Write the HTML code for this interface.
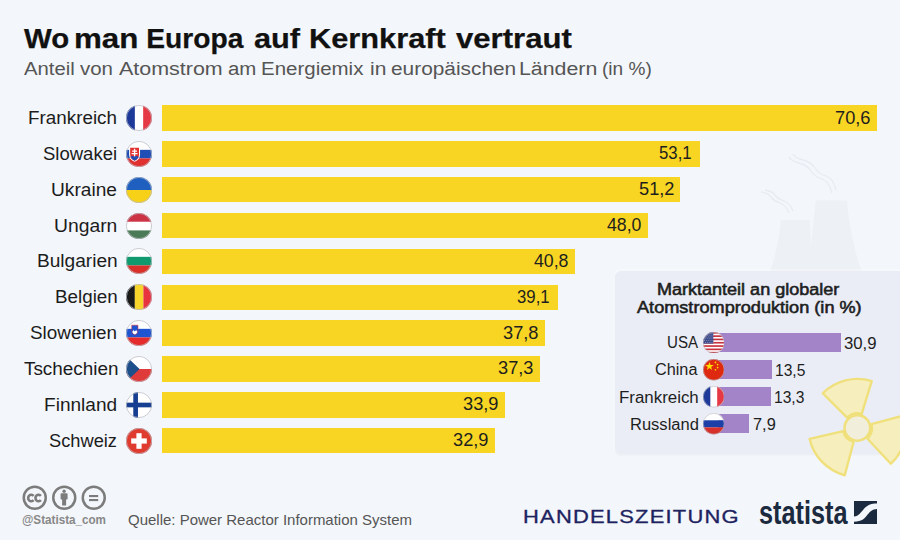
<!DOCTYPE html>
<html><head><meta charset="utf-8"><style>
html,body{margin:0;padding:0;}
body{width:900px;height:540px;overflow:hidden;background:#f3f6fa;position:relative;font-family:"Liberation Sans", sans-serif;}
.t{position:absolute;white-space:nowrap;line-height:1;}
.a{position:absolute;}
.bar{position:absolute;background:#f8d523;}
.pbar{position:absolute;background:#a384c9;}
</style></head><body>
<svg class="a" style="left:0;top:0" width="900" height="540" viewBox="0 0 900 540">
<path d="M770 272 Q779 246 781 220 L809.8 220 Q810.5 234 811 247 Q813 225 815.8 200.5 L847 200.5 Q850 240 862 272 Z" fill="#edf0f5"/>
<g fill="none" stroke="#e8ebf1" stroke-width="1.3">
<path d="M789 213 q-3 -8 -9 -10 t-9 -6 t-10 -5"/><path d="M793 211 q-3 -8 -9 -10 t-9 -6 t-10 -5"/>
<path d="M832 193 q-3 -12 -10 -14 t-11 -8 t-12 -8 t-10 -6"/><path d="M836 190 q-3 -12 -10 -14 t-11 -8 t-12 -8 t-10 -6"/>
</g>
</svg>
<div class="a" style="left:615px;top:270.5px;width:300px;height:182px;background:#eaedf5;border-radius:6px;box-shadow:0 0 0 2px rgba(255,255,255,0.3), 0 1.5px 1.5px rgba(220,224,232,0.7);"></div>
<div class="t" style="left:23.70px;top:23.73px;font-size:28.2px;font-weight:700;color:#111;transform-origin:0 23.87px;transform:scale(1.0429,1.0000);-webkit-text-stroke:0.25px #111;">Wo</div>
<div class="t" style="left:74.48px;top:23.73px;font-size:28.2px;font-weight:700;color:#111;transform-origin:0 23.87px;transform:scale(1.1111,1.0000);-webkit-text-stroke:0.25px #111;">man</div>
<div class="t" style="left:146.30px;top:23.73px;font-size:28.2px;font-weight:700;color:#111;transform-origin:0 23.87px;-webkit-text-stroke:0.25px #111;">Europa</div>
<div class="t" style="left:253.91px;top:23.73px;font-size:28.2px;font-weight:700;color:#111;transform-origin:0 23.87px;transform:scale(1.0905,1.0000);-webkit-text-stroke:0.25px #111;">auf</div>
<div class="t" style="left:308.62px;top:23.73px;font-size:28.2px;font-weight:700;color:#111;transform-origin:0 23.87px;transform:scale(1.0911,1.0000);-webkit-text-stroke:0.25px #111;">Kernkraft</div>
<div class="t" style="left:455.80px;top:23.73px;font-size:28.2px;font-weight:700;color:#111;transform-origin:0 23.87px;transform:scale(1.1038,1.0000);-webkit-text-stroke:0.25px #111;">vertraut</div>
<div class="t" style="left:23.60px;top:59.05px;font-size:19.2px;font-weight:400;color:#555;transform-origin:0 16.25px;transform:scale(1.0574,1.0000);">Anteil</div>
<div class="t" style="left:80.40px;top:59.05px;font-size:19.2px;font-weight:400;color:#555;transform-origin:0 16.25px;transform:scale(1.0667,1.0000);">von</div>
<div class="t" style="left:118.70px;top:59.05px;font-size:19.2px;font-weight:400;color:#555;transform-origin:0 16.25px;transform:scale(1.1185,1.0000);">Atomstrom</div>
<div class="t" style="left:227.64px;top:59.05px;font-size:19.2px;font-weight:400;color:#555;transform-origin:0 16.25px;transform:scale(1.0640,1.0000);">am</div>
<div class="t" style="left:261.17px;top:59.05px;font-size:19.2px;font-weight:400;color:#555;transform-origin:0 16.25px;transform:scale(1.0670,1.0000);">Energiemix</div>
<div class="t" style="left:369.61px;top:59.05px;font-size:19.2px;font-weight:400;color:#555;transform-origin:0 16.25px;transform:scale(1.0923,1.0000);">in</div>
<div class="t" style="left:390.91px;top:59.05px;font-size:19.2px;font-weight:400;color:#555;transform-origin:0 16.25px;transform:scale(1.0867,1.0000);">europäischen</div>
<div class="t" style="left:519.48px;top:59.05px;font-size:19.2px;font-weight:400;color:#555;transform-origin:0 16.25px;transform:scale(1.1119,1.0000);">Ländern</div>
<div class="t" style="left:602.41px;top:59.05px;font-size:19.2px;font-weight:400;color:#555;transform-origin:0 16.25px;transform:scale(0.9938,1.0000);">(in %)</div>
<div class="bar" style="left:161.5px;top:105.25px;width:715.46px;height:25.5px"></div>
<div class="t" style="left:27.92px;top:110.09px;font-size:17.5px;font-weight:400;color:#1c1c1c;transform-origin:0 14.81px;transform:scale(1.0765,1.0000);">Frankreich</div>
<svg class="a" style="left:126.00px;top:105.00px" width="26" height="26" viewBox="0 0 100 100"><defs><clipPath id="cm0"><circle cx="50" cy="50" r="50"/></clipPath></defs><g clip-path="url(#cm0)"><rect width="100" height="100" fill="#fff"/><rect width="34" height="100" fill="#1d3a9a"/><rect x="66" width="34" height="100" fill="#e63946"/></g><circle cx="50" cy="50" r="48.5" fill="none" stroke="#b9bcc4" stroke-width="3"/></svg>
<div class="t" style="left:835.24px;top:109.53px;font-size:17.8px;font-weight:400;color:#1e1e1e;transform-origin:0 15.07px;transform:scale(1.0242,1.0000);">70,6</div>
<div class="bar" style="left:161.5px;top:141.10px;width:538.12px;height:25.5px"></div>
<div class="t" style="left:43.24px;top:145.94px;font-size:17.5px;font-weight:400;color:#1c1c1c;transform-origin:0 14.81px;transform:scale(1.0574,1.0000);">Slowakei</div>
<svg class="a" style="left:126.00px;top:140.85px" width="26" height="26" viewBox="0 0 100 100"><defs><clipPath id="cm1"><circle cx="50" cy="50" r="50"/></clipPath></defs><g clip-path="url(#cm1)"><rect width="100" height="34" fill="#fff"/><rect y="34" width="100" height="33" fill="#1f4fb5"/><rect y="67" width="100" height="33" fill="#e03030"/><path d="M12 22 H54 V52 Q54 72 33 80 Q12 72 12 52 Z" fill="#fff"/><path d="M16 26 H50 V52 Q50 69 33 76 Q16 69 16 52 Z" fill="#e03030"/><path d="M30.5 30 h5 v7 h7 v4.5 h-7 v5 h9 v4.5 h-9 v10 h-5 v-10 h-9 v-4.5 h9 v-5 h-7 v-4.5 h7 z" fill="#fff"/><path d="M17 62 Q24 55 33 60 Q42 55 49 62 Q43 72 33 76 Q23 72 17 62 Z" fill="#1f4fb5"/></g><circle cx="50" cy="50" r="48.5" fill="none" stroke="#b9bcc4" stroke-width="3"/></svg>
<div class="t" style="left:658.67px;top:145.38px;font-size:17.8px;font-weight:400;color:#1e1e1e;transform-origin:0 15.07px;transform:scale(0.9424,1.0000);">53,1</div>
<div class="bar" style="left:161.5px;top:176.95px;width:518.86px;height:25.5px"></div>
<div class="t" style="left:50.61px;top:181.79px;font-size:17.5px;font-weight:400;color:#1c1c1c;transform-origin:0 14.81px;transform:scale(1.0932,1.0000);">Ukraine</div>
<svg class="a" style="left:126.00px;top:176.70px" width="26" height="26" viewBox="0 0 100 100"><defs><clipPath id="cm2"><circle cx="50" cy="50" r="50"/></clipPath></defs><g clip-path="url(#cm2)"><rect width="100" height="50" fill="#1f5fbf"/><rect y="50" width="100" height="50" fill="#f7d117"/></g><circle cx="50" cy="50" r="48.5" fill="none" stroke="#b9bcc4" stroke-width="3"/></svg>
<div class="t" style="left:638.64px;top:181.23px;font-size:17.8px;font-weight:400;color:#1e1e1e;transform-origin:0 15.07px;transform:scale(1.0242,1.0000);">51,2</div>
<div class="bar" style="left:161.5px;top:212.80px;width:486.43px;height:25.5px"></div>
<div class="t" style="left:54.40px;top:217.64px;font-size:17.5px;font-weight:400;color:#1c1c1c;transform-origin:0 14.81px;transform:scale(1.1036,1.0000);">Ungarn</div>
<svg class="a" style="left:126.00px;top:212.55px" width="26" height="26" viewBox="0 0 100 100"><defs><clipPath id="cm3"><circle cx="50" cy="50" r="50"/></clipPath></defs><g clip-path="url(#cm3)"><rect width="100" height="34" fill="#cc3344"/><rect y="34" width="100" height="33" fill="#fff"/><rect y="67" width="100" height="33" fill="#4a7a56"/></g><circle cx="50" cy="50" r="48.5" fill="none" stroke="#b9bcc4" stroke-width="3"/></svg>
<div class="t" style="left:607.23px;top:217.08px;font-size:17.8px;font-weight:400;color:#1e1e1e;transform-origin:0 15.07px;transform:scale(0.9941,1.0000);">48,0</div>
<div class="bar" style="left:161.5px;top:248.65px;width:413.47px;height:25.5px"></div>
<div class="t" style="left:36.51px;top:253.49px;font-size:17.5px;font-weight:400;color:#1c1c1c;transform-origin:0 14.81px;transform:scale(1.0917,1.0000);">Bulgarien</div>
<svg class="a" style="left:126.00px;top:248.40px" width="26" height="26" viewBox="0 0 100 100"><defs><clipPath id="cm4"><circle cx="50" cy="50" r="50"/></clipPath></defs><g clip-path="url(#cm4)"><rect width="100" height="34" fill="#fff"/><rect y="34" width="100" height="33" fill="#109a6e"/><rect y="67" width="100" height="33" fill="#d9302a"/></g><circle cx="50" cy="50" r="48.5" fill="none" stroke="#b9bcc4" stroke-width="3"/></svg>
<div class="t" style="left:534.27px;top:252.93px;font-size:17.8px;font-weight:400;color:#1e1e1e;transform-origin:0 15.07px;transform:scale(0.9941,1.0000);">40,8</div>
<div class="bar" style="left:161.5px;top:284.50px;width:396.24px;height:25.5px"></div>
<div class="t" style="left:54.93px;top:289.34px;font-size:17.5px;font-weight:400;color:#1c1c1c;transform-origin:0 14.81px;transform:scale(1.0750,1.0000);">Belgien</div>
<svg class="a" style="left:126.00px;top:284.25px" width="26" height="26" viewBox="0 0 100 100"><defs><clipPath id="cm5"><circle cx="50" cy="50" r="50"/></clipPath></defs><g clip-path="url(#cm5)"><rect width="34" height="100" fill="#1a1a1a"/><rect x="34" width="33" height="100" fill="#f8d52a"/><rect x="67" width="33" height="100" fill="#e8343f"/></g><circle cx="50" cy="50" r="48.5" fill="none" stroke="#b9bcc4" stroke-width="3"/></svg>
<div class="t" style="left:516.80px;top:288.78px;font-size:17.8px;font-weight:400;color:#1e1e1e;transform-origin:0 15.07px;transform:scale(0.9424,1.0000);">39,1</div>
<div class="bar" style="left:161.5px;top:320.35px;width:383.07px;height:25.5px"></div>
<div class="t" style="left:29.92px;top:325.19px;font-size:17.5px;font-weight:400;color:#1c1c1c;transform-origin:0 14.81px;transform:scale(1.0785,1.0000);">Slowenien</div>
<svg class="a" style="left:126.00px;top:320.10px" width="26" height="26" viewBox="0 0 100 100"><defs><clipPath id="cm6"><circle cx="50" cy="50" r="50"/></clipPath></defs><g clip-path="url(#cm6)"><rect width="100" height="34" fill="#fff"/><rect y="34" width="100" height="33" fill="#1f55d0"/><rect y="67" width="100" height="33" fill="#e52b2b"/><path d="M22 20 H46 V42 Q46 54 34 58 Q22 54 22 42 Z" fill="#1f55d0" stroke="#e52b2b" stroke-width="2"/><path d="M24 46 L29 38 L34 44 L39 38 L44 46 Q40 54 34 56 Q28 54 24 46Z" fill="#fff"/></g><circle cx="50" cy="50" r="48.5" fill="none" stroke="#b9bcc4" stroke-width="3"/></svg>
<div class="t" style="left:502.84px;top:324.63px;font-size:17.8px;font-weight:400;color:#1e1e1e;transform-origin:0 15.07px;transform:scale(1.0242,1.0000);">37,8</div>
<div class="bar" style="left:161.5px;top:356.20px;width:378.00px;height:25.5px"></div>
<div class="t" style="left:23.50px;top:361.04px;font-size:17.5px;font-weight:400;color:#1c1c1c;transform-origin:0 14.81px;transform:scale(1.0779,1.0000);">Tschechien</div>
<svg class="a" style="left:126.00px;top:355.95px" width="26" height="26" viewBox="0 0 100 100"><defs><clipPath id="cm7"><circle cx="50" cy="50" r="50"/></clipPath></defs><g clip-path="url(#cm7)"><rect width="100" height="50" fill="#fff"/><rect y="50" width="100" height="50" fill="#e03b3b"/><path d="M0 0 L52 50 L0 100 Z" fill="#1d4f8a"/></g><circle cx="50" cy="50" r="48.5" fill="none" stroke="#b9bcc4" stroke-width="3"/></svg>
<div class="t" style="left:497.77px;top:360.48px;font-size:17.8px;font-weight:400;color:#1e1e1e;transform-origin:0 15.07px;transform:scale(1.0242,1.0000);">37,3</div>
<div class="bar" style="left:161.5px;top:392.05px;width:343.54px;height:25.5px"></div>
<div class="t" style="left:44.31px;top:396.89px;font-size:17.5px;font-weight:400;color:#1c1c1c;transform-origin:0 14.81px;transform:scale(1.0892,1.0000);">Finnland</div>
<svg class="a" style="left:126.00px;top:391.80px" width="26" height="26" viewBox="0 0 100 100"><defs><clipPath id="cm8"><circle cx="50" cy="50" r="50"/></clipPath></defs><g clip-path="url(#cm8)"><rect width="100" height="100" fill="#fff"/><rect x="28" width="18" height="100" fill="#173f91"/><rect y="41" width="100" height="18" fill="#173f91"/></g><circle cx="50" cy="50" r="48.5" fill="none" stroke="#b9bcc4" stroke-width="3"/></svg>
<div class="t" style="left:463.32px;top:396.33px;font-size:17.8px;font-weight:400;color:#1e1e1e;transform-origin:0 15.07px;transform:scale(1.0242,1.0000);">33,9</div>
<div class="bar" style="left:161.5px;top:427.90px;width:333.41px;height:25.5px"></div>
<div class="t" style="left:49.46px;top:432.74px;font-size:17.5px;font-weight:400;color:#1c1c1c;transform-origin:0 14.81px;transform:scale(1.0429,1.0000);">Schweiz</div>
<svg class="a" style="left:126.00px;top:427.65px" width="26" height="26" viewBox="0 0 100 100"><defs><clipPath id="cm9"><circle cx="50" cy="50" r="50"/></clipPath></defs><g clip-path="url(#cm9)"><rect width="100" height="100" fill="#df3b2f"/><rect x="40" y="20" width="20" height="60" fill="#fff"/><rect x="20" y="40" width="60" height="20" fill="#fff"/></g><circle cx="50" cy="50" r="48.5" fill="none" stroke="#b9bcc4" stroke-width="3"/></svg>
<div class="t" style="left:453.18px;top:432.18px;font-size:17.8px;font-weight:400;color:#1e1e1e;transform-origin:0 15.07px;transform:scale(1.0242,1.0000);">32,9</div>
<div class="t" style="left:656.82px;top:282.26px;font-size:16px;font-weight:400;color:#1e1e1e;transform-origin:0 13.54px;transform:scale(1.1261,1.0000);-webkit-text-stroke:0.55px #1e1e1e;">Marktanteil an globaler</div>
<div class="t" style="left:636.70px;top:300.16px;font-size:16px;font-weight:400;color:#1e1e1e;transform-origin:0 13.54px;transform:scale(1.1330,1.0000);-webkit-text-stroke:0.55px #1e1e1e;">Atomstromproduktion (in %)</div>
<div class="pbar" style="left:717.7px;top:333.10px;width:123.20px;height:19.1px"></div>
<div class="t" style="left:666.66px;top:335.36px;font-size:16px;font-weight:400;color:#1e1e1e;transform-origin:0 13.54px;transform:scale(0.9437,1.0000);">USA</div>
<svg class="a" style="left:702.95px;top:331.90px" width="21.5" height="21.5" viewBox="0 0 100 100"><defs><clipPath id="ci0"><circle cx="50" cy="50" r="50"/></clipPath></defs><g clip-path="url(#ci0)"><rect width="100" height="100" fill="#fff"/><rect y="0.00" width="100" height="7.69" fill="#c8313e"/><rect y="15.38" width="100" height="7.69" fill="#c8313e"/><rect y="30.77" width="100" height="7.69" fill="#c8313e"/><rect y="46.15" width="100" height="7.69" fill="#c8313e"/><rect y="61.54" width="100" height="7.69" fill="#c8313e"/><rect y="76.92" width="100" height="7.69" fill="#c8313e"/><rect y="92.31" width="100" height="7.69" fill="#c8313e"/><rect width="48" height="54" fill="#3c4a8c"/><circle cx="6" cy="6.0" r="1.6" fill="#fff"/><circle cx="15" cy="6.0" r="1.6" fill="#fff"/><circle cx="24" cy="6.0" r="1.6" fill="#fff"/><circle cx="33" cy="6.0" r="1.6" fill="#fff"/><circle cx="42" cy="6.0" r="1.6" fill="#fff"/><circle cx="10.5" cy="14.5" r="1.6" fill="#fff"/><circle cx="19.5" cy="14.5" r="1.6" fill="#fff"/><circle cx="28.5" cy="14.5" r="1.6" fill="#fff"/><circle cx="37.5" cy="14.5" r="1.6" fill="#fff"/><circle cx="46.5" cy="14.5" r="1.6" fill="#fff"/><circle cx="6" cy="23.0" r="1.6" fill="#fff"/><circle cx="15" cy="23.0" r="1.6" fill="#fff"/><circle cx="24" cy="23.0" r="1.6" fill="#fff"/><circle cx="33" cy="23.0" r="1.6" fill="#fff"/><circle cx="42" cy="23.0" r="1.6" fill="#fff"/><circle cx="10.5" cy="31.5" r="1.6" fill="#fff"/><circle cx="19.5" cy="31.5" r="1.6" fill="#fff"/><circle cx="28.5" cy="31.5" r="1.6" fill="#fff"/><circle cx="37.5" cy="31.5" r="1.6" fill="#fff"/><circle cx="46.5" cy="31.5" r="1.6" fill="#fff"/><circle cx="6" cy="40.0" r="1.6" fill="#fff"/><circle cx="15" cy="40.0" r="1.6" fill="#fff"/><circle cx="24" cy="40.0" r="1.6" fill="#fff"/><circle cx="33" cy="40.0" r="1.6" fill="#fff"/><circle cx="42" cy="40.0" r="1.6" fill="#fff"/><circle cx="10.5" cy="48.5" r="1.6" fill="#fff"/><circle cx="19.5" cy="48.5" r="1.6" fill="#fff"/><circle cx="28.5" cy="48.5" r="1.6" fill="#fff"/><circle cx="37.5" cy="48.5" r="1.6" fill="#fff"/><circle cx="46.5" cy="48.5" r="1.6" fill="#fff"/></g><circle cx="50" cy="50" r="48.5" fill="none" stroke="#b9bcc4" stroke-width="3"/></svg>
<div class="t" style="left:844.48px;top:334.88px;font-size:16.5px;font-weight:400;color:#1e1e1e;transform-origin:0 13.97px;transform:scale(1.0133,1.0000);">30,9</div>
<div class="pbar" style="left:717.7px;top:360.20px;width:53.82px;height:19.1px"></div>
<div class="t" style="left:655.19px;top:362.46px;font-size:16px;font-weight:400;color:#1e1e1e;transform-origin:0 13.54px;transform:scale(1.0146,1.0000);">China</div>
<svg class="a" style="left:702.95px;top:359.00px" width="21.5" height="21.5" viewBox="0 0 100 100"><defs><clipPath id="ci1"><circle cx="50" cy="50" r="50"/></clipPath></defs><g clip-path="url(#ci1)"><rect width="100" height="100" fill="#de2910"/><polygon points="30,14 35,28 50,28 38,37 42,51 30,42 18,51 22,37 10,28 25,28" fill="#ffde00"/><circle cx="58" cy="16" r="4" fill="#ffde00"/><circle cx="68" cy="26" r="4" fill="#ffde00"/><circle cx="68" cy="40" r="4" fill="#ffde00"/><circle cx="58" cy="50" r="4" fill="#ffde00"/></g><circle cx="50" cy="50" r="48.5" fill="none" stroke="#b9bcc4" stroke-width="3"/></svg>
<div class="t" style="left:775.18px;top:361.98px;font-size:16.5px;font-weight:400;color:#1e1e1e;transform-origin:0 13.97px;transform:scale(0.9452,1.0000);">13,5</div>
<div class="pbar" style="left:717.7px;top:387.30px;width:53.03px;height:19.1px"></div>
<div class="t" style="left:618.64px;top:389.56px;font-size:16px;font-weight:400;color:#1e1e1e;transform-origin:0 13.54px;transform:scale(1.0554,1.0000);">Frankreich</div>
<svg class="a" style="left:702.95px;top:386.10px" width="21.5" height="21.5" viewBox="0 0 100 100"><defs><clipPath id="ci2"><circle cx="50" cy="50" r="50"/></clipPath></defs><g clip-path="url(#ci2)"><rect width="100" height="100" fill="#fff"/><rect width="34" height="100" fill="#1d3a9a"/><rect x="66" width="34" height="100" fill="#e63946"/></g><circle cx="50" cy="50" r="48.5" fill="none" stroke="#b9bcc4" stroke-width="3"/></svg>
<div class="t" style="left:774.38px;top:389.08px;font-size:16.5px;font-weight:400;color:#1e1e1e;transform-origin:0 13.97px;transform:scale(0.9452,1.0000);">13,3</div>
<div class="pbar" style="left:717.7px;top:414.40px;width:31.50px;height:19.1px"></div>
<div class="t" style="left:629.67px;top:416.66px;font-size:16px;font-weight:400;color:#1e1e1e;transform-origin:0 13.54px;transform:scale(1.0323,1.0000);">Russland</div>
<svg class="a" style="left:702.95px;top:413.20px" width="21.5" height="21.5" viewBox="0 0 100 100"><defs><clipPath id="ci3"><circle cx="50" cy="50" r="50"/></clipPath></defs><g clip-path="url(#ci3)"><rect width="100" height="34" fill="#fff"/><rect y="34" width="100" height="33" fill="#1c3fa8"/><rect y="67" width="100" height="33" fill="#d8302a"/></g><circle cx="50" cy="50" r="48.5" fill="none" stroke="#b9bcc4" stroke-width="3"/></svg>
<div class="t" style="left:752.81px;top:416.18px;font-size:16.5px;font-weight:400;color:#1e1e1e;transform-origin:0 13.97px;transform:scale(0.9905,1.0000);">7,9</div>
<svg class="a" style="left:0;top:0" width="900" height="540" viewBox="0 0 900 540">
<path d="M871.73 381.04 A49 49 0 0 0 822.75 393.25 L847.15 417.65 A14.5 14.5 0 0 1 861.64 414.03 ZM809.66 438.92 A49 49 0 0 0 844.72 475.23 L853.65 441.91 A14.5 14.5 0 0 1 843.27 431.16 ZM890.82 463.74 A49 49 0 0 0 904.73 415.22 L871.41 424.15 A14.5 14.5 0 0 1 867.29 438.50 Z" fill="#f6efbd" stroke="#f0e07c" stroke-width="2.4" stroke-linejoin="round"/>
<circle cx="857.4" cy="427.9" r="12.8" fill="#f1efdc" stroke="#f0e07c" stroke-width="2.6"/>
</svg>
<svg class="a" style="left:0;top:480px" width="120" height="40" viewBox="0 480 120 40">
<g fill="none" stroke="#7c7c7c" stroke-width="2.5">
<circle cx="34.75" cy="497.75" r="11"/><circle cx="64.25" cy="497.75" r="11"/><circle cx="93.75" cy="497.75" r="11"/>
<path d="M33.6 495.9 A3.1 3.2 0 1 0 33.6 500.1 M40.9 495.9 A3.1 3.2 0 1 0 40.9 500.1" stroke-width="2.6"/>
</g>
<g fill="#7c7c7c">
<circle cx="64.1" cy="491.3" r="1.7"/><rect x="60.6" y="493.2" width="7" height="6.3" rx="0.8"/><rect x="62.1" y="498.5" width="4" height="7"/>
<rect x="89" y="495" width="9.2" height="2.1"/><rect x="89" y="499" width="9.2" height="2.1"/>
</g>
</svg>
<div class="t" style="left:21.97px;top:513.72px;font-size:12.5px;font-weight:700;color:#888;transform-origin:0 10.58px;transform:scale(0.9330,1.0000);">@Statista_com</div>
<div class="t" style="left:128.30px;top:512.00px;font-size:15px;font-weight:400;color:#555;transform-origin:0 12.70px;transform:scale(0.9989,1.0000);">Quelle: Power Reactor Information System</div>
<div class="t" style="left:523.29px;top:508.19px;font-size:18.2px;font-weight:400;color:#1d2260;transform-origin:0 15.41px;transform:scale(1.2063,1.0000);letter-spacing:1.0px;-webkit-text-stroke:0.3px #1d2260;">HANDELSZEITUNG</div>
<div class="t" style="left:758.76px;top:498.50px;font-size:30px;font-weight:700;color:#1b2a3e;transform-origin:0 25.40px;transform:scale(0.8423,1.1300);">statista</div>
<svg class="a" style="left:853.9px;top:501.3px" width="23.1" height="23.1" viewBox="0 0 100 100">
<rect width="100" height="100" fill="#1b2a3e"/>
<path d="M0 67 C22 67 32 44 50 27 C62 16 74 10.4 100 10.4 L100 34.6 C80 34.6 70 46 58 60 C45 78 34 89.6 0 89.6 Z" fill="#f3f6fa"/>
</svg>
</body></html>
